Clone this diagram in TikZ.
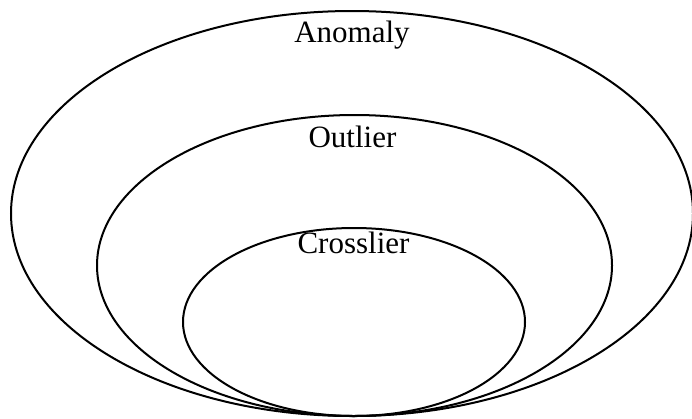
\documentclass[tikz,border=0pt]{standalone}
\usepackage{fontspec}
\setmainfont{Liberation Serif}
\begin{document}
\begin{tikzpicture}[x=1pt,y=-1pt,
  ring/.style={draw=black,line width=2pt},
  lbl/.style={font=\fontsize{31}{35}\selectfont,anchor=base,inner sep=0pt}]
\useasboundingbox (0,0) rectangle (692,418);
\draw[ring] (352,213.5) ellipse [x radius=341,y radius=202.5];
\draw[ring] (354.5,265.5) ellipse [x radius=257.5,y radius=150.5];
\draw[ring] (354,322) ellipse [x radius=171,y radius=94];
\node[lbl] (anomaly) at (352,42) {Anomaly};
\node[lbl] (outlier) at (352.5,147) {Outlier};
\node[lbl] (crosslier) at (353.5,253) {Crosslier};
\end{tikzpicture}
\end{document}
